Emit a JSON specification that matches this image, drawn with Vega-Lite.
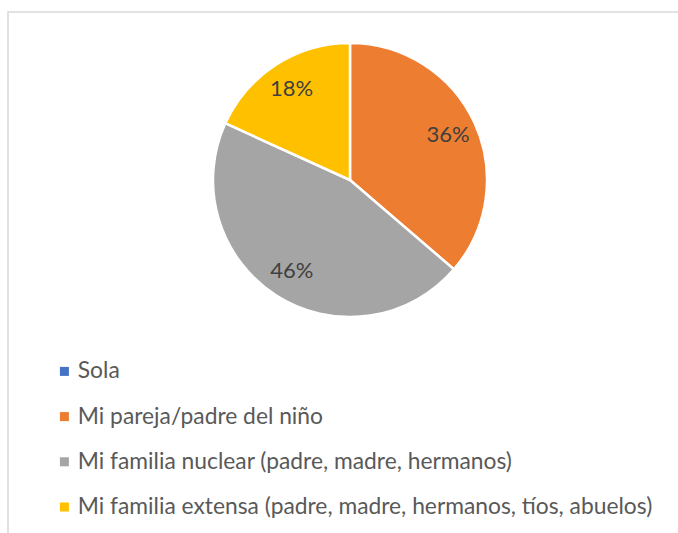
{
  "$schema": "https://vega.github.io/schema/vega-lite/v6.json",
  "width": 673,
  "height": 524,
  "padding": {"left": 8, "top": 12, "right": -3, "bottom": -3},
  "autosize": {"type": "none"},
  "background": "white",
  "view": {"stroke": "#d9d9d9", "strokeWidth": 1.5, "fill": "white"},
  "config": {
    "font": "Lato"
  },
  "data": {
    "values": [
      {"categoria": "Sola", "valor": 0, "orden": 1, "etiqueta": ""},
      {"categoria": "Mi pareja/padre del niño", "valor": 36.3, "orden": 2, "etiqueta": "36%"},
      {"categoria": "Mi familia nuclear (padre, madre, hermanos)", "valor": 45.5, "orden": 3, "etiqueta": "46%"},
      {"categoria": "Mi familia extensa (padre, madre, hermanos, tíos, abuelos)", "valor": 18.2, "orden": 4, "etiqueta": "18%"}
    ]
  },
  "encoding": {
    "theta": {"field": "valor", "type": "quantitative", "stack": true},
    "order": {"field": "orden", "type": "quantitative"}
  },
  "layer": [
    {
      "mark": {"type": "arc", "radius": 137, "stroke": "white", "strokeWidth": 2.5, "xOffset": 5.5, "yOffset": -94},
      "encoding": {
        "color": {
          "field": "categoria",
          "type": "nominal",
          "sort": ["Sola", "Mi pareja/padre del niño", "Mi familia nuclear (padre, madre, hermanos)", "Mi familia extensa (padre, madre, hermanos, tíos, abuelos)"],
          "scale": {
            "domain": ["Sola", "Mi pareja/padre del niño", "Mi familia nuclear (padre, madre, hermanos)", "Mi familia extensa (padre, madre, hermanos, tíos, abuelos)"],
            "range": ["#4472C4", "#ED7D31", "#A5A5A5", "#FFC000"]
          },
          "legend": {
            "orient": "none",
            "legendX": 45,
            "legendY": 348,
            "title": null,
            "direction": "vertical",
            "symbolType": "square",
            "symbolSize": 81,
            "symbolStrokeWidth": 0,
            "labelFont": "Lato",
            "labelFontSize": 22.8,
            "labelColor": "#595959",
            "labelLimit": 800,
            "labelOffset": 2,
            "rowPadding": 21.2,
            "padding": 0
          }
        }
      }
    },
    {
      "transform": [{"filter": "datum.valor > 0"}],
      "mark": {"type": "text", "radius": 108, "fontSize": 22, "font": "Lato", "color": "#404040", "xOffset": 5.5, "yOffset": -94},
      "encoding": {
        "text": {"field": "etiqueta", "type": "nominal"}
      }
    }
  ]
}
